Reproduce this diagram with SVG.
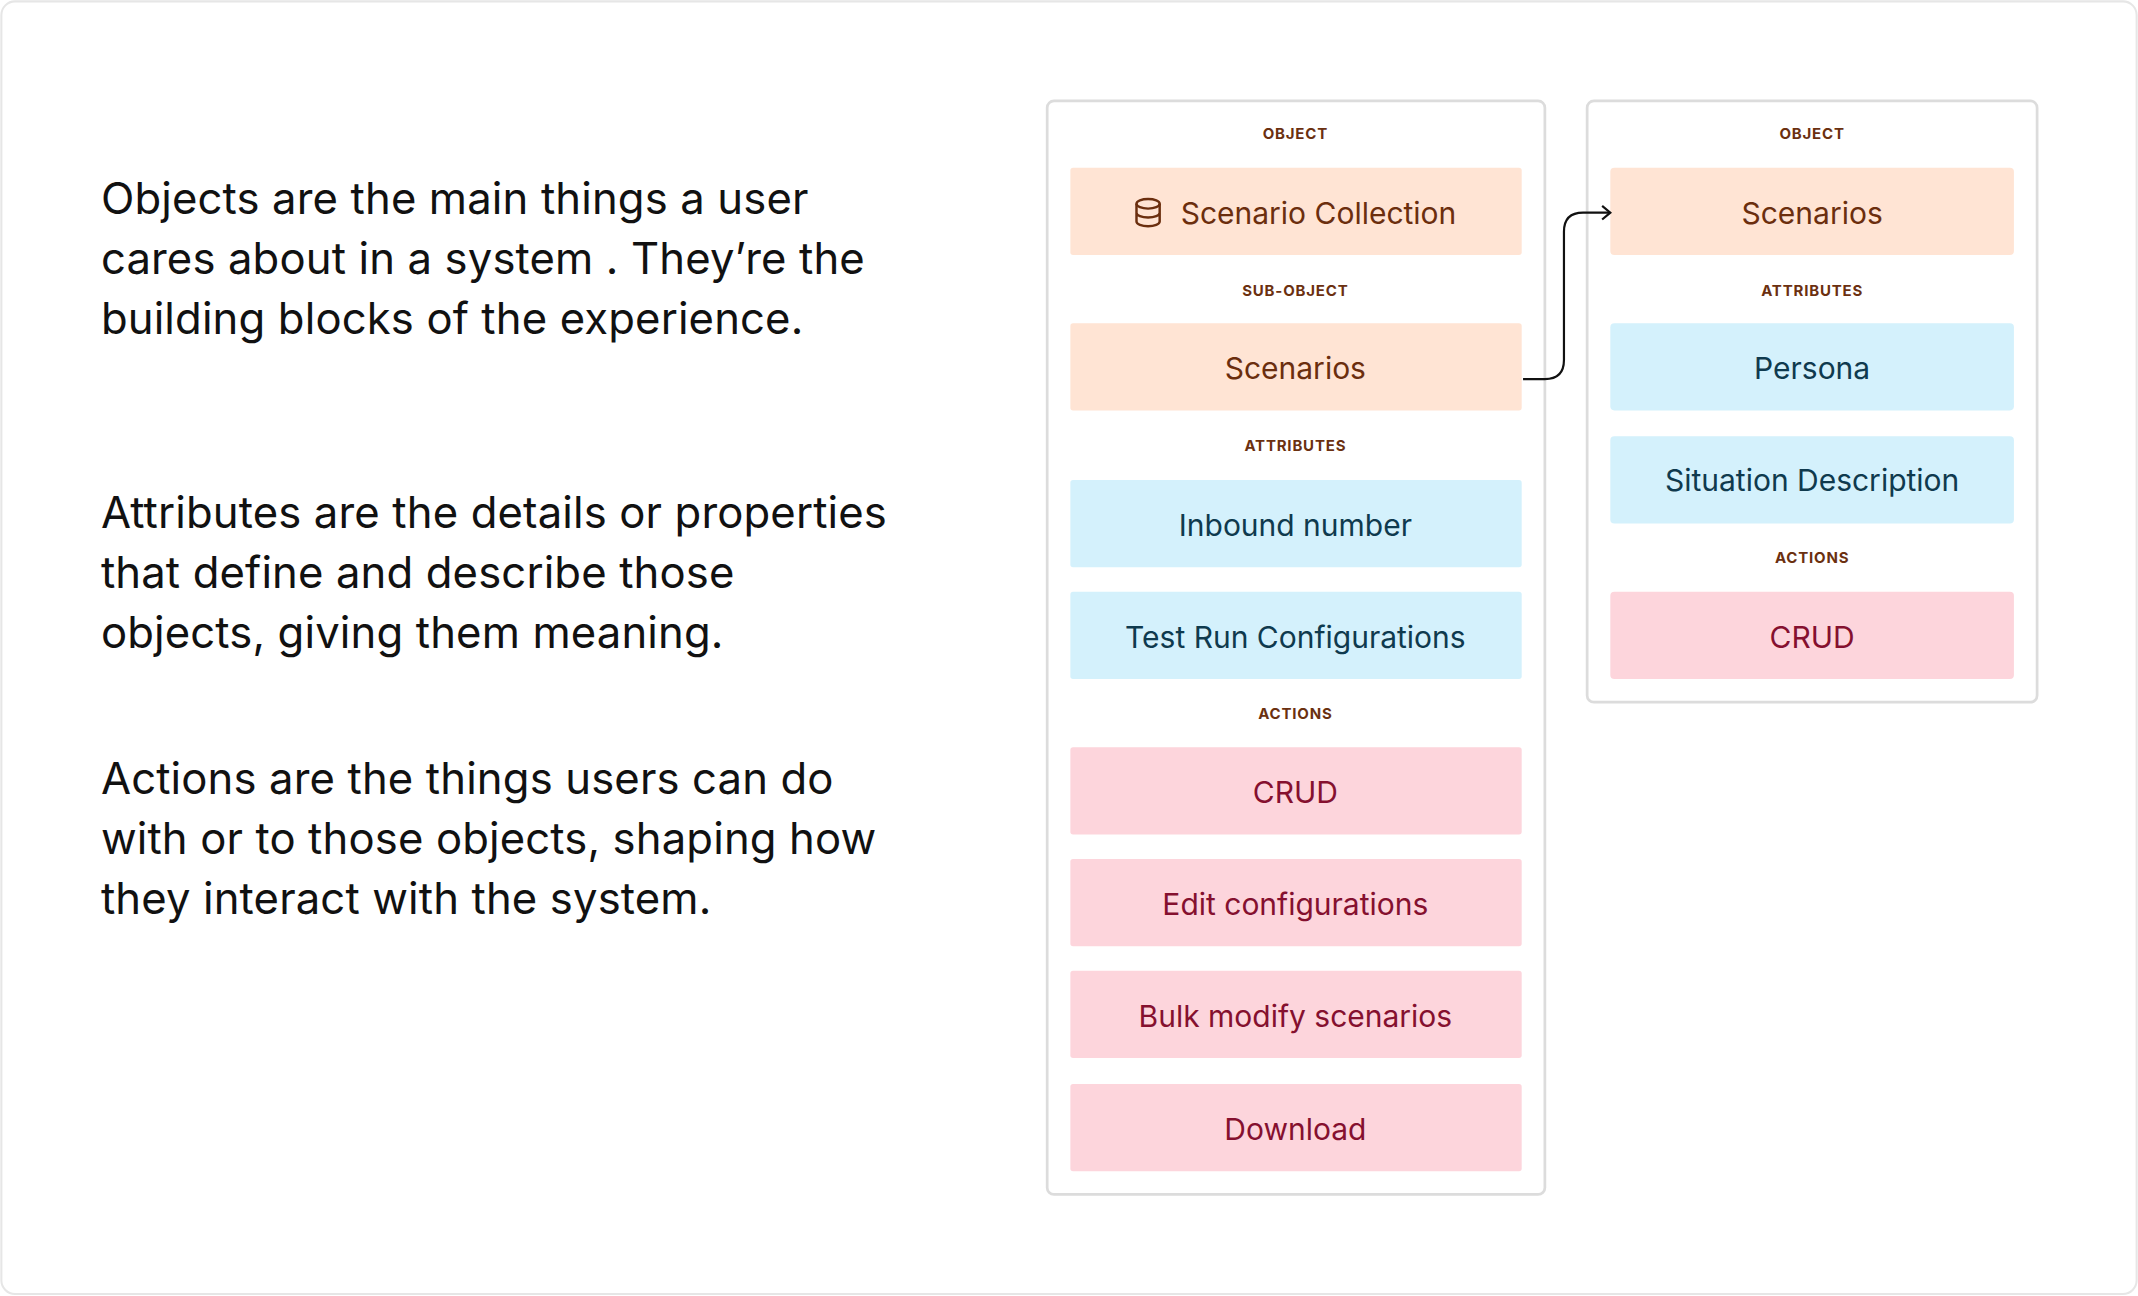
<svg xmlns="http://www.w3.org/2000/svg" width="2138" height="1296" viewBox="0 0 2138 1296">
<style>
.body{font-family:Inter,"Noto Sans",sans-serif;font-size:32px;fill:#111;letter-spacing:0.1px}
.lbl{font-family:Inter,"Noto Sans",sans-serif;font-size:11px;font-weight:700;fill:#6B3010;text-anchor:middle;letter-spacing:0.6px}
.card{fill:#fff;stroke:#dcdcdc;stroke-width:2}
.o rect{fill:#FFE4D4}.o text{fill:#6B2E0E}
.a rect{fill:#D4F1FC}.a text{fill:#0F3A4E}
.c rect{fill:#FDD5DC}.c text{fill:#85102F}
.n text{font-family:Inter,"Noto Sans",sans-serif;font-size:22px;text-anchor:middle;dominant-baseline:central}
</style>
<defs><marker id="ar" markerWidth="12" markerHeight="12" refX="9" refY="6" orient="auto" markerUnits="userSpaceOnUse"><path d="M3 1 L9 6 L3 11" fill="none" stroke="#111" stroke-width="1.6"/></marker></defs>
<g transform="scale(1.36352)">
<rect x="1" y="1" width="1566" height="948" rx="10" fill="#fff" stroke="#e6e6e6" stroke-width="1.5"/>
<g id="text">
<text class="body" x="74" y="157">Objects are the main things a user</text>
<text class="body" x="74" y="201">cares about in a system . They’re the</text>
<text class="body" x="74" y="245">building blocks of the experience.</text>
<text class="body" x="74" y="387">Attributes are the details or properties</text>
<text class="body" x="74" y="431">that define and describe those</text>
<text class="body" x="74" y="475">objects, giving them meaning.</text>
<text class="body" x="74" y="582">Actions are the things users can do</text>
<text class="body" x="74" y="626">with or to those objects, shaping how</text>
<text class="body" x="74" y="670">they interact with the system.</text>
</g>
<g id="card1">
<rect class="card" x="768" y="74" width="365" height="802" rx="5"/>
<text class="lbl" x="950" y="102">OBJECT</text>
<text class="lbl" x="950" y="217">SUB-OBJECT</text>
<text class="lbl" x="950" y="331">ATTRIBUTES</text>
<text class="lbl" x="950" y="527">ACTIONS</text>
</g>
<g id="n1" class="n o"><rect x="785" y="123" width="331" height="64" rx="2"/><text x="967" y="156">Scenario Collection</text>
<g fill="none" stroke="#6B2E0E" stroke-width="1.8"><ellipse cx="842" cy="149.5" rx="8.5" ry="3.5"/><path d="M833.5 149.5 V162.5 A8.5 3.5 0 0 0 850.5 162.5 V149.5 M833.5 156 A8.5 3.5 0 0 0 850.5 156"/></g></g>
<g id="n2" class="n o"><rect x="785" y="237" width="331" height="64" rx="2"/><text x="950" y="270">Scenarios</text></g>
<g id="n3" class="n a"><rect x="785" y="352" width="331" height="64" rx="2"/><text x="950" y="385">Inbound number</text></g>
<g id="n4" class="n a"><rect x="785" y="434" width="331" height="64" rx="2"/><text x="950" y="467">Test Run Configurations</text></g>
<g id="n5" class="n c"><rect x="785" y="548" width="331" height="64" rx="2"/><text x="950" y="581">CRUD</text></g>
<g id="n6" class="n c"><rect x="785" y="630" width="331" height="64" rx="2"/><text x="950" y="663">Edit configurations</text></g>
<g id="n7" class="n c"><rect x="785" y="712" width="331" height="64" rx="2"/><text x="950" y="745">Bulk modify scenarios</text></g>
<g id="n8" class="n c"><rect x="785" y="795" width="331" height="64" rx="2"/><text x="950" y="828">Download</text></g>
<g id="card2">
<rect class="card" x="1164" y="74" width="330" height="441" rx="5"/>
<text class="lbl" x="1329" y="102">OBJECT</text>
<text class="lbl" x="1329" y="217">ATTRIBUTES</text>
<text class="lbl" x="1329" y="413">ACTIONS</text>
</g>
<g id="m1" class="n o"><rect x="1181" y="123" width="296" height="64" rx="3"/><text x="1329" y="156">Scenarios</text></g>
<g id="m2" class="n a"><rect x="1181" y="237" width="296" height="64" rx="3"/><text x="1329" y="270">Persona</text></g>
<g id="m3" class="n a"><rect x="1181" y="320" width="296" height="64" rx="3"/><text x="1329" y="352">Situation Description</text></g>
<g id="m4" class="n c"><rect x="1181" y="434" width="296" height="64" rx="3"/><text x="1329" y="467">CRUD</text></g>
<g id="connectors">
<path d="M1117 278 H1133 Q1147 278 1147 264 V170 Q1147 156 1161 156 H1181" fill="none" stroke="#111" stroke-width="1.6" marker-end="url(#ar)"/>
</g>
</g>
</svg>
